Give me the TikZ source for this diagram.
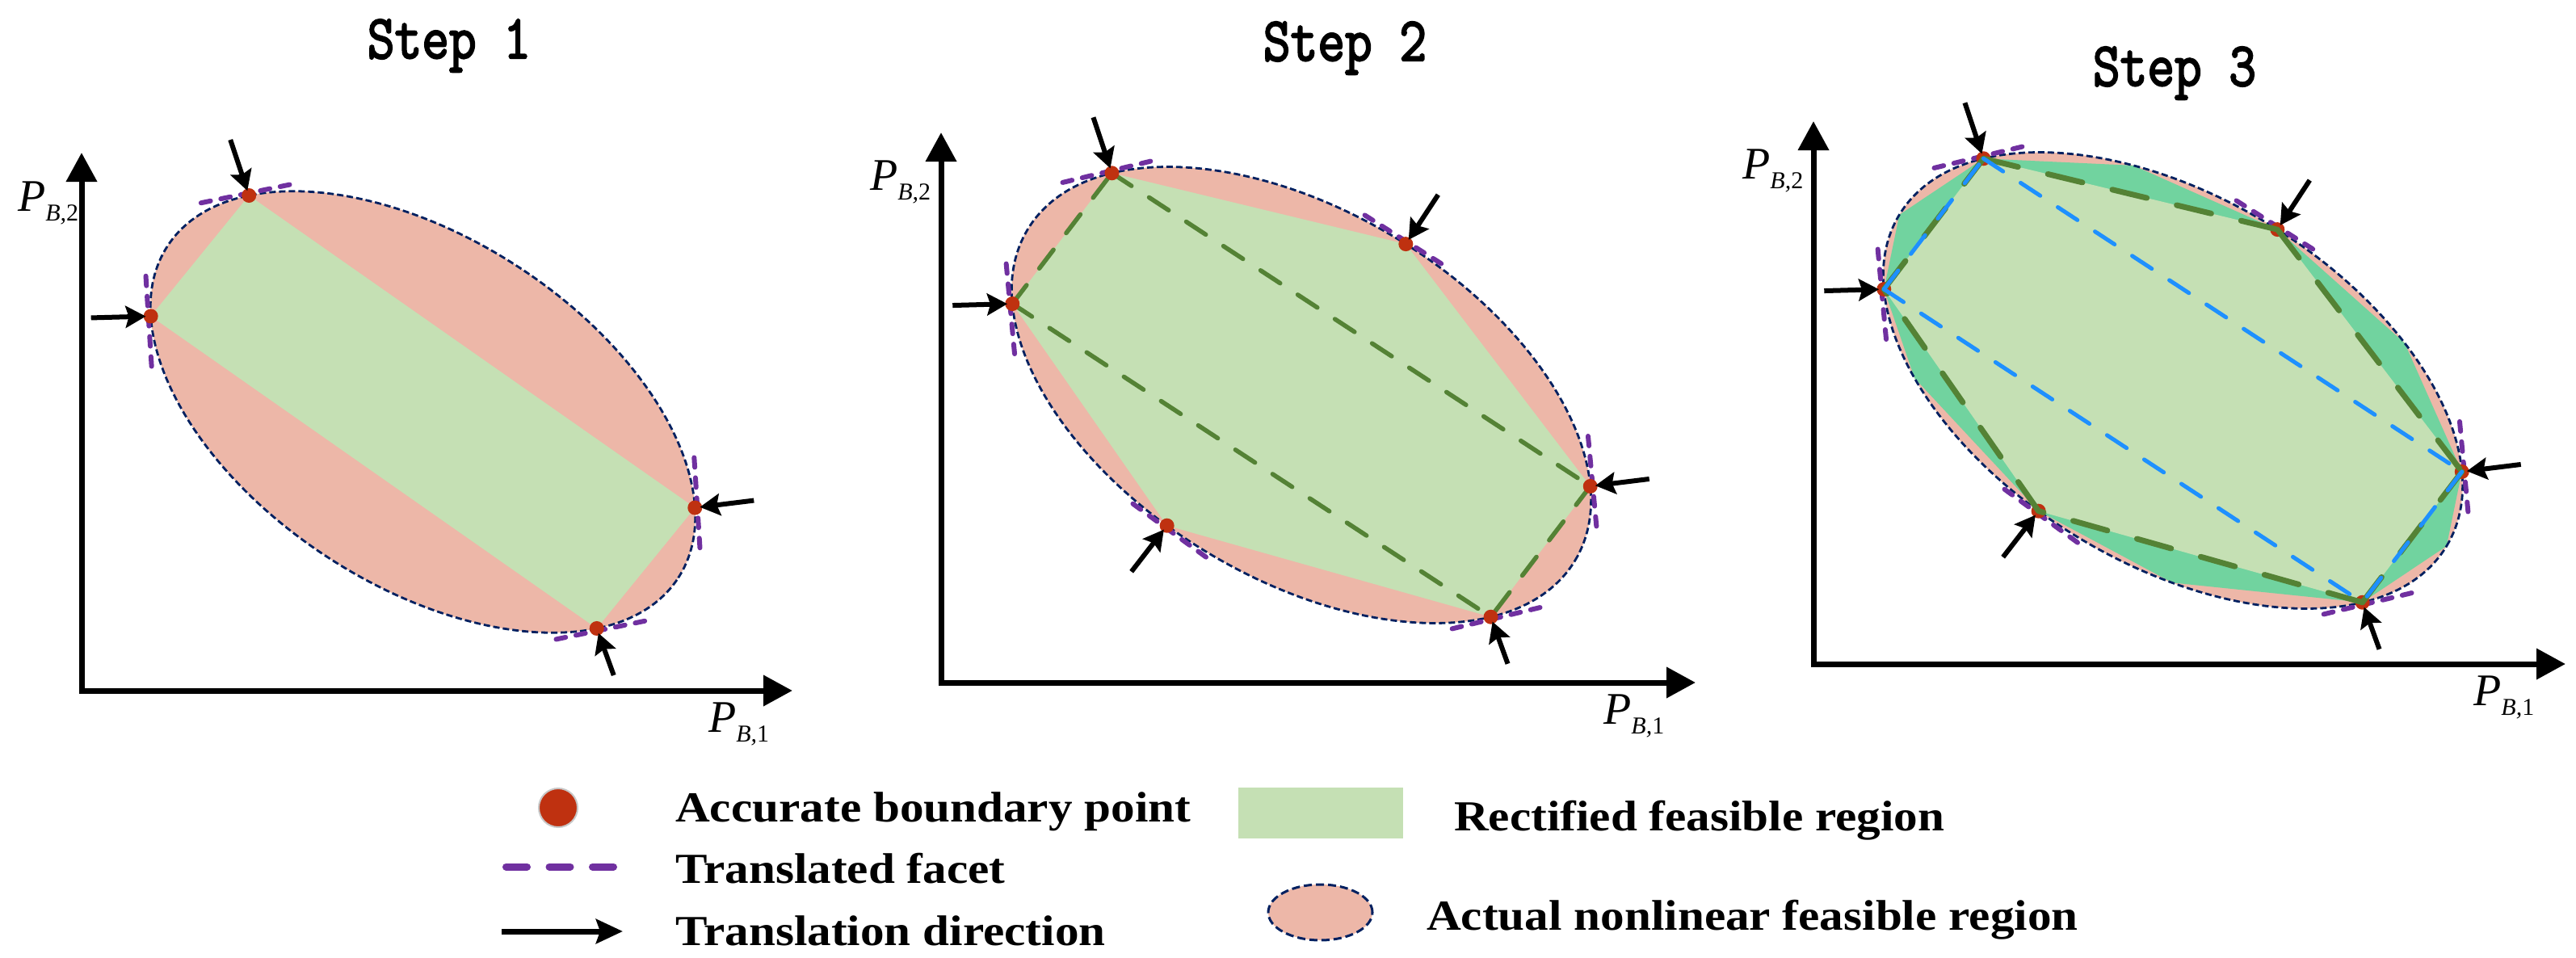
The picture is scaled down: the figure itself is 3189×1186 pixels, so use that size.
\documentclass[tikz,border=0pt]{standalone}
\usepackage{fontspec}
\setmainfont{Liberation Serif}
\newfontfamily\titlefont[FakeBold=3]{Latin Modern Mono}
\usetikzlibrary{arrows.meta,calc,shapes.geometric}

\definecolor{pinkf}{HTML}{EDB7A8}
\definecolor{lgreen}{HTML}{C5E0B4}
\definecolor{mgreen}{HTML}{71D39F}
\definecolor{dgreen}{HTML}{548235}
\definecolor{navyb}{HTML}{002060}
\definecolor{purp}{HTML}{7030A0}
\definecolor{dotred}{HTML}{BF3110}
\definecolor{blued}{HTML}{1E90FF}

% boundary point on ellipse (inside rotated scope): name, t, a, b, facet half length
\newcommand\bpt[5]{%
  \pgfmathsetmacro\su{#3/100*sin(#2)}%
  \pgfmathsetmacro\cv{#4/100*cos(#2)}%
  \pgfmathsetmacro\nn{sqrt(\su*\su+\cv*\cv)}%
  \pgfmathsetmacro\kk{#5/(100*\nn)}%
  \pgfmathsetmacro\ox{3*\cv/\nn}%
  \pgfmathsetmacro\oy{3*\su/\nn}%
  \coordinate (#1) at ({#3*cos(#2)},{#4*sin(#2)});%
  \coordinate (#1f1) at ({#3*cos(#2)+\ox+\kk*#3*sin(#2)},{#4*sin(#2)+\oy-\kk*#4*cos(#2)});%
  \coordinate (#1f2) at ({#3*cos(#2)+\ox-\kk*#3*sin(#2)},{#4*sin(#2)+\oy+\kk*#4*cos(#2)});%
}
\newcommand\facetline[1]{\draw[facet] (#1f1) -- (#1f2);}
\newcommand\dotpoint[1]{\node[bpoint] (#1-dot) at (#1) {};}
\newcommand\transarrow[3]{\coordinate (#1-tail) at ($(#1)+(#2,#3)$);
  \draw[tarrow] (#1-tail) -- (#1-dot);}

\begin{document}
\begin{tikzpicture}[x=1pt,y=-1pt,
  axisline/.style={line width=7pt,line join=miter,{Triangle[length=36pt,width=37pt]}-{Triangle[length=36pt,width=37pt]}},
  ellb/.style={draw=navyb,line width=2.8pt,dash pattern=on 8pt off 4pt},
  facet/.style={draw=purp,line width=6pt,line cap=round,dash pattern=on 12pt off 13pt},
  tarrow/.style={line width=6pt,-{Stealth[length=25pt,width=27pt,inset=4pt]},shorten >=-3pt},
  bpoint/.style={circle,fill=dotred,inner sep=0pt,minimum size=18pt},
  olddash/.style={draw=dgreen,line width=5.5pt,line cap=round,dash pattern=on 29pt off 26pt},
  hexdash/.style={draw=dgreen,line width=7pt,line cap=round,dash pattern=on 44pt off 38pt},
  bluedash/.style={draw=blued,line width=5pt,line cap=round,dash pattern=on 29pt off 26pt},
  steptitle/.style={anchor=base,inner sep=0pt},
  axlab/.style={anchor=base west,inner sep=0pt},
  legtext/.style={anchor=base west,inner sep=0pt}
]
\useasboundingbox (0,0) rectangle (3189,1186);
\fill[white] (0,0) rectangle (3189,1186);

\newcommand\bigP{\fontsize{56}{56}\selectfont\itshape P}
\newcommand\subl[1]{\raisebox{-12pt}{\fontsize{30}{30}\selectfont\itshape B,\upshape #1}}
\newcommand\titletext[1]{\scalebox{0.85}[1]{\titlefont\fontsize{77}{77}\selectfont #1}}
\newcommand\legfont[1]{\scalebox{1.117}[1]{\fontsize{53}{60}\selectfont\bfseries #1}}

% ================= Step 1 =================
\node[steptitle] (title1) at (556,72) {\titletext{Step 1}};
\coordinate (ax1y) at (101,189);
\coordinate (ax1o) at (101,855);
\coordinate (ax1x) at (981,855);
\draw[axisline] (ax1y) -- (ax1o) -- (ax1x);
\node[axlab] (lab1y) at (22,261) {\bigP\subl{2}};
\node[axlab] (lab1x) at (877,906) {\bigP\subl{1}};

\begin{scope}[shift={(523.5,510)},rotate=-33]
  \fill[pinkf] (0,0) ellipse [x radius=377pt,y radius=215pt];
  \bpt{s1-t}{210}{377}{215}{60}
  \bpt{s1-l}{157}{377}{215}{62}
  \bpt{s1-r}{337}{377}{215}{62}
  \bpt{s1-b}{30}{377}{215}{60}
  \fill[lgreen] (s1-t) -- (s1-r) -- (s1-b) -- (s1-l) -- cycle;
  \draw[ellb] (0,0) ellipse [x radius=377pt,y radius=215pt];
\end{scope}
\foreach \p in {s1-t,s1-l,s1-r,s1-b}{\facetline{\p}}
\foreach \p in {s1-t,s1-l,s1-r,s1-b}{\dotpoint{\p}}
\transarrow{s1-t}{-23}{-69}
\transarrow{s1-l}{-74}{2}
\transarrow{s1-r}{73}{-9}
\transarrow{s1-b}{21}{58}

% ================= Step 2 =================
\node[steptitle] (title2) at (1665,75) {\titletext{Step 2}};
\coordinate (ax2y) at (1165,164);
\coordinate (ax2o) at (1165,845);
\coordinate (ax2x) at (2099,845);
\draw[axisline] (ax2y) -- (ax2o) -- (ax2x);
\node[axlab] (lab2y) at (1077,235) {\bigP\subl{2}};
\node[axlab] (lab2x) at (1985,896) {\bigP\subl{1}};

\begin{scope}[shift={(1611,489)},rotate=-31.2]
  \fill[pinkf] (0,0) ellipse [x radius=396pt,y radius=227pt];
  \bpt{s2-t}{210}{396}{227}{62}
  \bpt{s2-l}{157}{396}{227}{62}
  \bpt{s2-r}{337}{396}{227}{62}
  \bpt{s2-b}{30}{396}{227}{62}
  \bpt{s2-u}{272}{396}{227}{62}
  \bpt{s2-d}{98.5}{396}{227}{62}
  \fill[lgreen] (s2-t) -- (s2-u) -- (s2-r) -- (s2-b) -- (s2-d) -- (s2-l) -- cycle;
  \draw[ellb] (0,0) ellipse [x radius=396pt,y radius=227pt];
\end{scope}
\draw[olddash] (s2-t) -- (s2-r);
\draw[olddash] (s2-l) -- (s2-b);
\draw[olddash] (s2-l) -- (s2-t);
\draw[olddash] (s2-r) -- (s2-b);
\foreach \p in {s2-t,s2-l,s2-r,s2-b,s2-u,s2-d}{\facetline{\p}}
\foreach \p in {s2-t,s2-l,s2-r,s2-b,s2-u,s2-d}{\dotpoint{\p}}
\transarrow{s2-t}{-23}{-69}
\transarrow{s2-l}{-74}{2}
\transarrow{s2-r}{73}{-9}
\transarrow{s2-b}{21}{58}
\transarrow{s2-u}{40}{-61}
\transarrow{s2-d}{-44}{57}

% ================= Step 3 =================
\node[steptitle] (title3) at (2692,106) {\titletext{Step 3}};
\coordinate (ax3y) at (2245,150);
\coordinate (ax3o) at (2245,822);
\coordinate (ax3x) at (3176,822);
\draw[axisline] (ax3y) -- (ax3o) -- (ax3x);
\node[axlab] (lab3y) at (2157,221) {\bigP\subl{2}};
\node[axlab] (lab3x) at (3062,873) {\bigP\subl{1}};

\begin{scope}[shift={(2690,471)},rotate=-31.2]
  \fill[pinkf] (0,0) ellipse [x radius=396pt,y radius=227pt];
  \bpt{s3-t}{210}{396}{227}{62}
  \bpt{s3-l}{157}{396}{227}{62}
  \bpt{s3-r}{337}{396}{227}{62}
  \bpt{s3-b}{30}{396}{227}{62}
  \bpt{s3-u}{272}{396}{227}{62}
  \bpt{s3-d}{98.5}{396}{227}{62}
  \coordinate (s3-v1) at ({396*cos(0)},{227*sin(0)});
  \coordinate (s3-v2) at ({396*cos(71)},{227*sin(71)});
  \coordinate (s3-v3) at ({396*cos(134)},{227*sin(134)});
  \coordinate (s3-v4) at ({396*cos(180)},{227*sin(180)});
  \coordinate (s3-v5) at ({396*cos(243)},{227*sin(243)});
  \coordinate (s3-v6) at ({396*cos(304)},{227*sin(304)});
  \fill[mgreen] (s3-v1) -- (s3-b) -- (s3-v2) -- (s3-d) -- (s3-v3) -- (s3-l) -- (s3-v4)
     -- (s3-t) -- (s3-v5) -- (s3-u) -- (s3-v6) -- (s3-r) -- cycle;
  \fill[lgreen] (s3-t) -- (s3-u) -- (s3-r) -- (s3-b) -- (s3-d) -- (s3-l) -- cycle;
  \draw[ellb] (0,0) ellipse [x radius=396pt,y radius=227pt];
\end{scope}
\foreach \p in {s3-t,s3-l,s3-r,s3-b,s3-u,s3-d}{\facetline{\p}}
\foreach \p in {s3-t,s3-l,s3-r,s3-b,s3-u,s3-d}{\dotpoint{\p}}
\draw[hexdash] (s3-t) -- (s3-u);
\draw[hexdash] (s3-u) -- (s3-r);
\draw[hexdash] (s3-r) -- (s3-b);
\draw[hexdash] (s3-b) -- (s3-d);
\draw[hexdash] (s3-d) -- (s3-l);
\draw[hexdash] (s3-l) -- (s3-t);
\draw[bluedash] (s3-t) -- (s3-r);
\draw[bluedash] (s3-l) -- (s3-b);
\draw[bluedash] (s3-l) -- (s3-t);
\draw[bluedash] (s3-r) -- (s3-b);
\transarrow{s3-t}{-23}{-69}
\transarrow{s3-l}{-74}{2}
\transarrow{s3-r}{73}{-9}
\transarrow{s3-b}{21}{58}
\transarrow{s3-u}{40}{-61}
\transarrow{s3-d}{-44}{57}

% ================= Legend =================
\node[circle,fill=dotred,draw=black!22,line width=2pt,minimum size=48pt,inner sep=0pt] (legdot) at (691,1000) {};
\node[legtext] (legt1) at (836,1017) {\legfont{Accurate boundary point}};
\coordinate (legf1) at (626.5,1073);
\coordinate (legf2) at (759.5,1073);
\draw[draw=purp,line width=9pt,line cap=round,dash pattern=on 26pt off 27.5pt] (legf1) -- (legf2);
\node[legtext] (legt2) at (836,1093) {\legfont{Translated facet}};
\coordinate (lega1) at (621,1153);
\coordinate (lega2) at (771,1153);
\draw[line width=7pt,-{Stealth[length=33pt,width=30pt,inset=5pt]}] (lega1) -- (lega2);
\node[legtext] (legt3) at (836,1170) {\legfont{Translation direction}};

\node[fill=lgreen,minimum width=204pt,minimum height=63pt,inner sep=0pt,anchor=north west] (legrect) at (1533,975) {};
\node[legtext] (legt4) at (1800,1028) {\legfont{Rectified feasible region}};
\node[ellipse,fill=pinkf,draw=navyb,line width=3pt,dash pattern=on 10pt off 5pt,minimum width=129pt,minimum height=69pt,inner sep=0pt] (legell) at (1634.5,1129.5) {};
\node[legtext] (legt5) at (1766,1151) {\legfont{Actual nonlinear feasible region}};
\end{tikzpicture}
\end{document}
